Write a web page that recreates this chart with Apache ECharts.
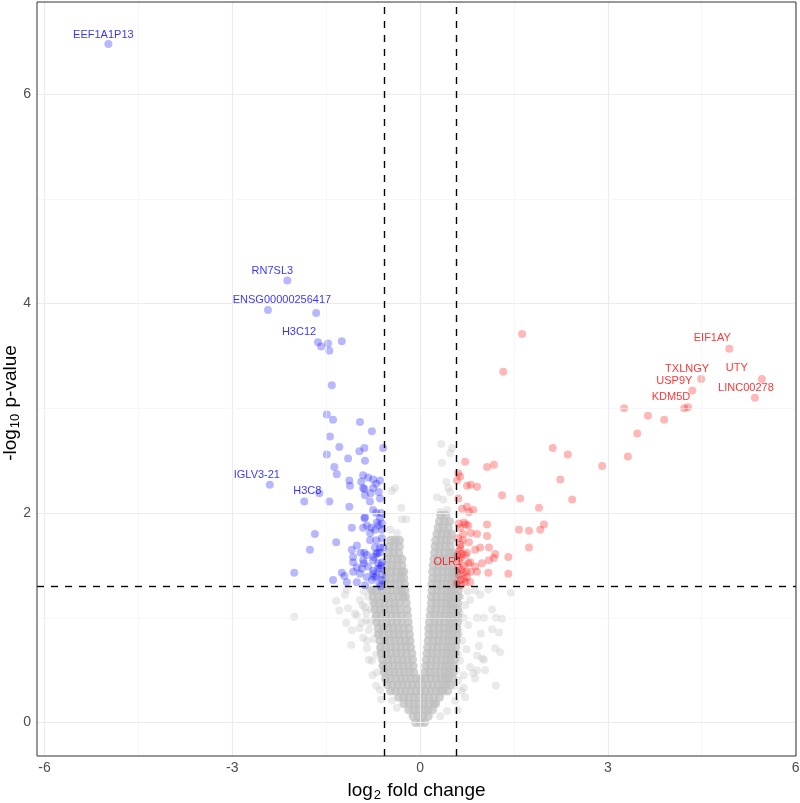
<!DOCTYPE html>
<html><head><meta charset="utf-8">
<script src="https://cdn.jsdelivr.net/npm/echarts@6/dist/echarts.min.js"></script>
<style>html,body{margin:0;padding:0;background:#fff}#c{width:800px;height:803px}</style>
</head><body><div id="c"></div>
<script>
// ---------------- data ----------------
const xTicks = [-6, -3, 0, 3, 6];
const yTicks = [0, 2, 4, 6];
const xMinor = [-4.5, -1.5, 1.5, 4.5];
const yMinor = [1, 3, 5];
const fcCut = [-0.585, 0.585];
const pCut = [1.301];

const downGenes = ['EEF1A1P13', 'RN7SL3', 'ENSG00000256417', 'H3C12', 'IGLV3-21', 'H3C8'];
const downGeneX = [-4.98, -2.12, -2.43, -1.63, -2.40, -1.85];
const downGeneY = [6.48, 4.22, 3.94, 3.63, 2.27, 2.11];

const upGenes = ['EIF1AY', 'UTY', 'TXLNGY', 'USP9Y', 'LINC00278', 'KDM5D', 'OLR1'];
const upGeneX = [4.94, 5.46, 4.49, 4.35, 5.35, 4.28, 0.65];
const upGeneY = [3.57, 3.28, 3.28, 3.17, 3.10, 3.01, 1.57];

const downX = [-1.66,-1.58,-1.47,-1.45,-1.25,-1.41,-1.49,-1.39,-0.96,-0.77,-1.44,-0.59,-1.29,-1.49,-0.97,-0.89,-1.15,-0.88,-1.37,-1.33,
  -0.91,-0.83,-0.75,-0.64,-1.13,-1.12,-0.94,-0.91,-0.89,-0.75,-1.61,-0.88,-1.45,-0.80,-0.64,-1.13,-0.75,-0.70,-0.88,-0.89,
  -0.64,-0.69,-0.61,-1.09,-0.91,-0.78,-0.80,-0.61,-1.68,-0.70,-0.61,-1.34,-1.76,-1.01,-1.09,-1.07,-0.89,-0.70,-0.64,-0.59,
  -0.91,-0.85,-0.75,-0.67,-0.61,-1.07,-1.01,-0.93,-0.83,-0.75,-0.64,-0.61,-2.01,-1.25,-1.21,-1.07,-0.96,-0.85,-0.73,-1.39,
  -1.17,-1.01,-0.88,-0.77,-0.65,-0.64,-0.72,-0.80,-0.67,-0.75,-0.61,
  -0.66,-0.70,-0.62,-0.66,-0.72,-0.68,-0.74,-0.62,-0.70,-0.63,-0.90,-0.95,-0.85,-0.79];
const downY = [3.91,3.59,3.62,3.55,3.64,3.22,2.94,2.89,2.87,2.78,2.73,2.62,2.63,2.56,2.59,2.62,2.52,2.50,2.44,2.37,
  2.36,2.34,2.32,2.31,2.31,2.26,2.30,2.24,2.23,2.24,2.19,2.17,2.11,2.11,2.14,2.06,2.03,2.00,1.96,1.95,
  1.95,1.91,1.90,1.86,1.86,1.86,1.81,1.84,1.80,1.74,1.76,1.72,1.65,1.69,1.65,1.58,1.62,1.61,1.67,1.67,
  1.55,1.60,1.55,1.52,1.53,1.53,1.48,1.47,1.49,1.45,1.47,1.41,1.43,1.43,1.40,1.44,1.42,1.39,1.39,1.36,
  1.34,1.34,1.31,1.36,1.33,1.62,1.67,1.74,1.47,1.42,1.36,
  2.20,2.28,2.00,1.88,1.84,1.62,1.58,1.50,1.40,1.30,1.52,1.62,1.88,2.19];

const upX = [1.63,1.33,4.22,3.26,3.64,3.90,3.47,3.32,2.91,2.12,2.36,0.72,1.07,1.18,0.61,0.64,0.59,2.24,0.75,0.81,
  0.91,1.31,1.60,2.43,0.61,1.90,0.67,0.75,0.78,0.85,0.70,0.73,0.77,0.64,1.07,1.58,1.74,1.92,1.98,1.74,
  0.69,0.81,0.91,1.07,0.61,0.78,0.65,0.64,0.88,0.96,1.10,0.67,0.72,0.75,1.20,1.18,1.10,1.41,0.77,0.80,
  0.99,0.88,0.61,0.81,0.91,1.09,1.41,0.62,0.65,0.72,0.80,0.59,0.69,0.75,
  0.62,0.66,0.70,0.63,0.68,0.60,0.74,0.66,0.70,0.62];
const upY = [3.71,3.35,3.00,3.00,2.93,2.89,2.76,2.54,2.45,2.62,2.56,2.49,2.44,2.46,2.38,2.35,2.31,2.32,2.26,2.27,
  2.25,2.17,2.14,2.13,2.14,2.05,2.04,2.06,2.01,2.03,1.91,1.89,1.88,1.86,1.89,1.84,1.83,1.84,1.89,1.67,
  1.80,1.81,1.80,1.78,1.76,1.72,1.70,1.67,1.65,1.67,1.67,1.61,1.60,1.62,1.61,1.57,1.55,1.58,1.52,1.53,
  1.52,1.49,1.48,1.44,1.44,1.43,1.42,1.41,1.36,1.34,1.34,1.33,1.43,1.39,
  1.55,1.46,1.50,1.64,1.74,1.60,1.44,1.31,1.37,1.90];

// scattered non-significant genes
const nsX = [-2.01,-1.34,-1.29,-1.15,-1.20,-1.17,-1.18,-1.10,-1.01,-0.93,-0.85,-0.97,-0.91,-1.04,-1.09,-0.85,-0.77,-0.69,-0.96,-0.88,
  -0.75,-0.80,-0.64,-0.45,-0.37,-0.40,-0.45,-0.29,-0.22,-0.48,-0.37,-0.30,
  1.45,1.15,1.21,1.31,1.02,0.91,0.97,1.15,1.26,1.20,1.28,0.94,0.91,0.99,1.02,1.04,0.91,0.80,0.85,1.21,0.72,0.70,0.88,
  1.09,0.96,0.80,0.88,0.72,0.77,0.67,0.64,0.61,0.56,0.43,0.32,
  0.34,0.51,0.48,0.35,0.42,0.45,0.48,0.27,0.37,0.43,0.32,
  -0.55,-0.60,-0.64,-0.68,-0.72,-0.76,-0.80,-0.58,0.55,0.58,0.60,0.62,0.63,0.64,
  -0.83,-0.90,-0.86,-0.78,-0.82,-0.74,-0.70,
  -0.82,-0.86,-0.92,-0.76,-0.70,-0.62,0.70,0.74,0.70,0.76,0.66,0.60];
const nsY = [1.01,1.16,1.07,1.09,1.22,1.27,0.95,0.74,1.02,0.95,0.71,0.90,0.81,1.04,0.88,0.78,0.59,0.48,1.17,1.10,
  1.26,0.95,0.31,0.21,0.14,2.24,2.21,1.94,1.94,1.84,1.81,2.05,
  1.24,1.08,1.00,0.99,1.00,1.00,0.85,0.89,0.86,0.71,0.67,0.73,0.64,0.61,0.60,0.50,0.50,0.53,0.47,0.35,0.24,0.33,0.42,
  1.27,1.22,1.17,1.26,1.12,0.93,0.78,0.59,0.40,0.21,0.11,0.06,
  2.66,2.62,2.57,2.48,2.30,2.24,2.20,2.15,2.13,2.03,2.01,
  0.40,0.55,0.70,0.85,1.00,1.15,1.28,0.50,0.35,0.50,0.65,0.85,1.05,1.20,
  1.20,1.25,1.05,1.08,0.88,0.80,0.65,
  0.60,0.98,1.12,0.45,0.35,0.22,0.45,0.70,1.00,1.25,0.30,0.12];

// dense V-shaped cloud of non-significant genes: one row per -log10 p level
const coreY = [0.00,0.06,0.12,0.18,0.24,0.30,0.36,0.42,0.48,0.54,0.60,0.66,0.72,0.78,0.84,0.90,0.96,1.02,1.08,1.14,
  1.20,1.26,1.32,1.38,1.44,1.50,1.56,1.62,1.68,1.74,1.80,1.86,1.92,1.98];
const coreX = [
  [-0.07,0.00,0.07],
  [-0.11,-0.03,0.05,0.13],
  [-0.18,-0.10,-0.02,0.06,0.13,0.20],
  [-0.26,-0.18,-0.10,-0.02,0.06,0.14,0.22,0.25],
  [-0.34,-0.26,-0.18,-0.10,-0.02,0.06,0.14,0.22,0.31],
  [-0.47,-0.39,-0.31,-0.23,-0.15,-0.07,0.01,0.09,0.17,0.25,0.32,0.37,0.44],
  [-0.52,-0.44,-0.36,-0.28,-0.20,-0.12,-0.04,0.04,0.12,0.20,0.28,0.36,0.42,0.49],
  [-0.55,-0.47,-0.39,-0.31,-0.23,-0.15,-0.07,0.01,0.09,0.17,0.25,0.33,0.40,0.45,0.52],
  [-0.57,-0.49,-0.41,-0.33,-0.25,-0.17,-0.10,0.08,0.16,0.24,0.32,0.40,0.46,0.53],
  [-0.59,-0.51,-0.43,-0.35,-0.27,-0.19,-0.11,0.09,0.17,0.25,0.33,0.41,0.47,0.54],
  [-0.60,-0.52,-0.44,-0.36,-0.28,-0.20,-0.12,0.10,0.18,0.26,0.34,0.42,0.48,0.55],
  [-0.62,-0.54,-0.46,-0.38,-0.30,-0.22,-0.13,0.11,0.19,0.27,0.35,0.43,0.49,0.56],
  [-0.63,-0.55,-0.47,-0.39,-0.31,-0.23,-0.15,0.12,0.20,0.28,0.36,0.44,0.50,0.57],
  [-0.64,-0.56,-0.48,-0.40,-0.32,-0.24,-0.16,0.13,0.21,0.29,0.37,0.45,0.51,0.58],
  [-0.66,-0.58,-0.50,-0.42,-0.34,-0.26,-0.17,0.14,0.22,0.30,0.38,0.46,0.52,0.59],
  [-0.67,-0.59,-0.51,-0.43,-0.35,-0.27,-0.18,0.14,0.22,0.30,0.38,0.46,0.52,0.59],
  [-0.69,-0.61,-0.53,-0.45,-0.37,-0.29,-0.19,0.15,0.23,0.31,0.39,0.47,0.53,0.60],
  [-0.70,-0.62,-0.54,-0.46,-0.38,-0.30,-0.20,0.16,0.24,0.32,0.40,0.47,0.53,0.60],
  [-0.72,-0.64,-0.56,-0.48,-0.40,-0.32,-0.21,0.17,0.25,0.33,0.41,0.48,0.53,0.60],
  [-0.73,-0.65,-0.57,-0.49,-0.41,-0.33,-0.22,0.18,0.26,0.34,0.42,0.48,0.53,0.60],
  [-0.75,-0.67,-0.59,-0.51,-0.43,-0.35,-0.27,-0.23,0.18,0.26,0.34,0.42,0.48,0.54,0.61],
  [-0.77,-0.69,-0.61,-0.53,-0.45,-0.37,-0.30,-0.24,0.19,0.27,0.35,0.43,0.49,0.54,0.61],
  [-0.56,-0.48,-0.40,-0.32,-0.25,0.19,0.27,0.35,0.43,0.50,0.55,0.58],
  [-0.55,-0.47,-0.39,-0.31,-0.26,0.20,0.28,0.36,0.44,0.51,0.55,0.58],
  [-0.54,-0.46,-0.38,-0.30,-0.26,0.20,0.28,0.36,0.44,0.51,0.55,0.58],
  [-0.53,-0.45,-0.37,-0.29,0.21,0.29,0.37,0.45,0.52],
  [-0.52,-0.44,-0.36,-0.29,0.22,0.30,0.38,0.46,0.53],
  [-0.50,-0.42,-0.34,0.23,0.31,0.39,0.47,0.53],
  [-0.49,-0.41,-0.33,0.24,0.32,0.40,0.48],
  [-0.47,-0.40,-0.33,0.25,0.33,0.41,0.49],
  [0.27,0.35,0.43,0.50],
  [0.29,0.37,0.45],
  [0.31,0.39,0.47],
  [0.33,0.41]
];

// ---------------- build ----------------
const FONT = '"Liberation Sans", Arial, Helvetica, sans-serif';
const labelOffsets = {
  EEF1A1P13:[-5,-9], RN7SL3:[-15,-10], ENSG00000256417:[14,-10], H3C12:[-19,-10],
  'IGLV3-21':[-13,-10], H3C8:[3,-11], EIF1AY:[-17,-11], UTY:[-25,-11], TXLNGY:[-14,-10],
  USP9Y:[-18,-10], LINC00278:[-9,-10], KDM5D:[-17,-10], OLR1:[-13,4]
};
function pairs(xs, ys){ return xs.map((x,i)=>[x, ys[i]]); }
const coreData = [];
coreY.forEach((y,i)=>coreX[i].forEach(x=>coreData.push([x,y])));

function labelled(names, xs, ys, color){
  return names.map((n,i)=>({
    value:[xs[i], ys[i]], name:n,
    label:{show:true, formatter:n, position:'inside', offset:labelOffsets[n], color:color,
      fontSize:11, fontFamily:FONT}
  }));
}
const downData = pairs(downX, downY).concat(labelled(downGenes, downGeneX, downGeneY, '#0000FF'));
const upData = pairs(upX, upY).concat(labelled(upGenes, upGeneX, upGeneY, '#FF0000'));

const gridLines = [];
xTicks.forEach(v=>gridLines.push({xAxis:v, lineStyle:{color:'#EBEBEB', width:1.1, type:'solid'}}));
yTicks.forEach(v=>gridLines.push({yAxis:v, lineStyle:{color:'#EBEBEB', width:1.1, type:'solid'}}));
xMinor.forEach(v=>gridLines.push({xAxis:v, lineStyle:{color:'#F2F2F2', width:0.6, type:'solid'}}));
yMinor.forEach(v=>gridLines.push({yAxis:v, lineStyle:{color:'#F2F2F2', width:0.6, type:'solid'}}));
const cutLines = [];
fcCut.forEach(v=>cutLines.push({xAxis:v}));
pCut.forEach(v=>cutLines.push({yAxis:v}));

const chart = echarts.init(document.getElementById('c'), null, {renderer:'canvas'});
chart.setOption({
  animation:false,
  backgroundColor:'#FFFFFF',
  grid:{left:37, right:4, top:2, bottom:47, containLabel:false, outerBoundsMode:'none',
    show:true, borderColor:'#333333', borderWidth:1, backgroundColor:'transparent', z:10},
  xAxis:{
    type:'value', min:-6.12, max:6.006,
    splitLine:{show:false}, axisLine:{show:false},
    axisTick:{show:true, length:3, customValues:xTicks, lineStyle:{color:'#333333', width:1}},
    axisLabel:{customValues:xTicks, color:'#4D4D4D', fontSize:14, margin:5, fontFamily:FONT},
    name:'{t|log}{s|2}{t| fold change}', nameLocation:'middle', nameGap:23, nameMoveOverlap:false,
    nameTextStyle:{fontFamily:FONT, rich:{t:{fontSize:19, color:'#000', fontFamily:FONT}, s:{fontSize:13, color:'#000', padding:[10,1,0,1], fontFamily:FONT}}}
  },
  yAxis:{
    type:'value', min:-0.32, max:6.88,
    splitLine:{show:false}, axisLine:{show:false},
    axisTick:{show:true, length:3, customValues:yTicks, lineStyle:{color:'#333333', width:1}},
    axisLabel:{customValues:yTicks, color:'#4D4D4D', fontSize:14, margin:6, fontFamily:FONT},
    name:'{t|-log}{s|10}{t| p-value}', nameLocation:'middle', nameGap:15, nameMoveOverlap:false,
    nameTextStyle:{fontFamily:FONT, padding:[0,48,0,0],
      rich:{t:{fontSize:19, color:'#000', fontFamily:FONT}, s:{fontSize:13, color:'#000', padding:[10,1,0,1], fontFamily:FONT}}}
  },
  series:[
    {type:'scatter', data:[], z:1, silent:true,
      markLine:{silent:true, symbol:['none','none'], label:{show:false}, data:gridLines}},
    {type:'scatter', data:coreData, z:2, silent:true, symbolSize:9,
      itemStyle:{color:'rgba(190,190,190,0.9)'}},
    {type:'scatter', data:pairs(nsX, nsY), z:2, silent:true, symbolSize:8,
      itemStyle:{color:'rgba(190,190,190,0.4)'}},
    {type:'scatter', data:downData, z:3, silent:true, symbolSize:8,
      itemStyle:{color:'rgba(0,0,255,0.35)'}},
    {type:'scatter', data:upData, z:4, silent:true, symbolSize:8,
      itemStyle:{color:'rgba(255,0,0,0.35)'}},
    {type:'scatter', data:[], z:6, silent:true,
      markLine:{silent:true, symbol:['none','none'], label:{show:false},
        lineStyle:{color:'#000000', width:1.4, type:[7,7]}, data:cutLines}}
  ]
});
</script></body></html>
